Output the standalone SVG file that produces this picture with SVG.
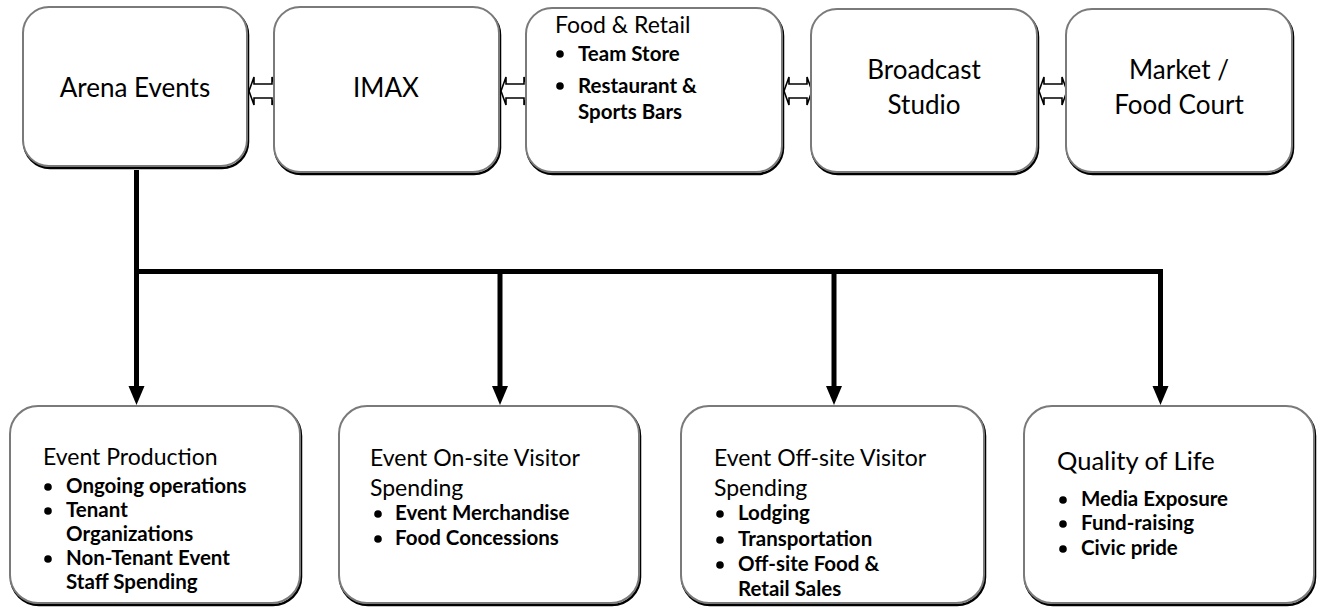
<svg xmlns="http://www.w3.org/2000/svg" width="1322" height="609" viewBox="0 0 1322 609">
<style>
.sh{fill:none;stroke:#000;stroke-width:2.5}
.bx{fill:#fff;stroke:#7a7a7a;stroke-width:2}
.t{font-family:Lato,"Open Sans",sans-serif;font-size:23px;fill:#000}
.tc{font-family:Lato,"Open Sans",sans-serif;font-size:26px;fill:#000;text-anchor:middle}
.b{font-family:Lato,"Open Sans",sans-serif;font-size:20.5px;font-weight:bold;fill:#000}
.dot{fill:#000}
.da{fill:#fff;stroke:#000;stroke-width:1.6;stroke-linejoin:miter}
.ln{stroke:#000;stroke-width:5;fill:none}
</style>
<g id="connectors">
<path class="ln" d="M136.5 170 V388 M134 271.5 H1163 M500 271.5 V388 M834 271.5 V388 M1160.5 271.5 V388"/>
<polygon points="128.5,386 144.5,386 136.5,405"/>
<polygon points="492,386 508,386 500,405"/>
<polygon points="826,386 842,386 834,405"/>
<polygon points="1152.5,386 1168.5,386 1160.5,405"/>
<polygon class="da" points="249,91 254,77 254,84 272,84 272,77 277,91 272,105 272,98 254,98 254,105"/>
<polygon class="da" points="501,91 506,77 506,84 524,84 524,77 529,91 524,105 524,98 506,98 506,105"/>
<polygon class="da" points="784,91 789,77 789,84 807,84 807,77 812,91 807,105 807,98 789,98 789,105"/>
<polygon class="da" points="1039,91 1044,77 1044,84 1062,84 1062,77 1067,91 1062,105 1062,98 1044,98 1044,105"/>
</g>
<g id="arena">
<rect class="sh" x="24" y="9" width="224" height="159" rx="26"/>
<rect class="bx" x="23" y="7" width="224" height="159" rx="26"/>
<text class="tc" x="135" y="97">Arena Events</text>
</g>
<g id="imax">
<rect class="sh" x="275" y="9" width="225" height="165" rx="26"/>
<rect class="bx" x="274" y="7" width="225" height="165" rx="26"/>
<text class="tc" x="386" y="97">IMAX</text>
</g>
<g id="food-retail">
<rect class="sh" x="527" y="10" width="256" height="164" rx="26"/>
<rect class="bx" x="526" y="8" width="256" height="164" rx="26"/>
<text class="t" x="555" y="33">Food &amp; Retail</text>
<circle class="dot" cx="560" cy="54" r="3.8"/>
<text class="b" x="578" y="61">Team Store</text>
<circle class="dot" cx="560" cy="86" r="3.8"/>
<text class="b" x="578" y="93">Restaurant &amp;</text>
<text class="b" x="578" y="119">Sports Bars</text>
</g>
<g id="broadcast">
<rect class="sh" x="812" y="11" width="226" height="163" rx="26"/>
<rect class="bx" x="811" y="9" width="226" height="163" rx="26"/>
<text class="tc" x="924" y="79">Broadcast</text>
<text class="tc" x="924" y="114">Studio</text>
</g>
<g id="market">
<rect class="sh" x="1067" y="11" width="226" height="163" rx="26"/>
<rect class="bx" x="1066" y="9" width="226" height="163" rx="26"/>
<text class="tc" x="1179" y="79">Market /</text>
<text class="tc" x="1179" y="114">Food Court</text>
</g>
<g id="event-production">
<rect class="sh" x="11" y="408" width="290" height="197" rx="28"/>
<rect class="bx" x="10" y="406" width="290" height="197" rx="28"/>
<text class="t" x="43" y="465">Event Production</text>
<circle class="dot" cx="48" cy="487" r="3.8"/>
<text class="b" x="66" y="493">Ongoing operations</text>
<circle class="dot" cx="48" cy="511" r="3.8"/>
<text class="b" x="66" y="517">Tenant</text>
<text class="b" x="66" y="541">Organizations</text>
<circle class="dot" cx="48" cy="559" r="3.8"/>
<text class="b" x="66" y="565">Non-Tenant Event</text>
<text class="b" x="66" y="589">Staff Spending</text>
</g>
<g id="onsite">
<rect class="sh" x="340" y="408" width="300" height="197" rx="28"/>
<rect class="bx" x="339" y="406" width="300" height="197" rx="28"/>
<text class="t" x="370" y="466">Event On-site Visitor</text>
<text class="t" x="370" y="496">Spending</text>
<circle class="dot" cx="378" cy="514" r="3.8"/>
<text class="b" x="395" y="520">Event Merchandise</text>
<circle class="dot" cx="378" cy="539" r="3.8"/>
<text class="b" x="395" y="545">Food Concessions</text>
</g>
<g id="offsite">
<rect class="sh" x="682" y="408" width="303" height="197" rx="28"/>
<rect class="bx" x="681" y="406" width="303" height="197" rx="28"/>
<text class="t" x="714" y="466">Event Off-site Visitor</text>
<text class="t" x="714" y="496">Spending</text>
<circle class="dot" cx="720" cy="514" r="3.8"/>
<text class="b" x="738" y="520">Lodging</text>
<circle class="dot" cx="720" cy="540" r="3.8"/>
<text class="b" x="738" y="546">Transportation</text>
<circle class="dot" cx="720" cy="565" r="3.8"/>
<text class="b" x="738" y="571">Off-site Food &amp;</text>
<text class="b" x="738" y="596">Retail Sales</text>
</g>
<g id="quality">
<rect class="sh" x="1025" y="408" width="290" height="197" rx="28"/>
<rect class="bx" x="1024" y="406" width="290" height="197" rx="28"/>
<text class="t" x="1057" y="470" style="font-size:25.5px">Quality of Life</text>
<circle class="dot" cx="1063" cy="500" r="3.8"/>
<text class="b" x="1081" y="506">Media Exposure</text>
<circle class="dot" cx="1063" cy="524" r="3.8"/>
<text class="b" x="1081" y="530">Fund-raising</text>
<circle class="dot" cx="1063" cy="549" r="3.8"/>
<text class="b" x="1081" y="555">Civic pride</text>
</g>
</svg>
